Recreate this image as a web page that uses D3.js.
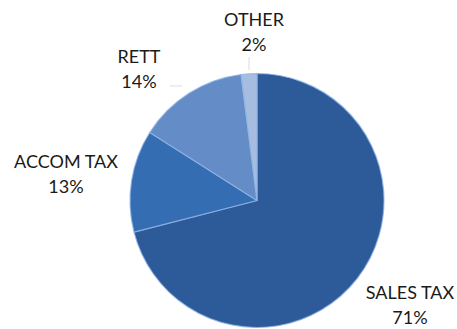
<!DOCTYPE html>
<html>
<head>
<meta charset="utf-8">
<script src="https://cdn.jsdelivr.net/npm/d3@7"></script>
<style>
  body { margin: 0; background: #fff; }
  text { font-family: Lato, "Open Sans", sans-serif; fill: #1a1a1a; }
</style>
</head>
<body>
<div id="chart"></div>
<script>
// data
const categories = ["SALES TAX", "ACCOM TAX", "RETT", "OTHER"];
const values = [71, 13, 14, 2];
const colors = ["#3668ae", "#3c7ac6", "#6f99d4", "#b7cdea"];
const edgeColors = ["#2d5a99", "#356db3", "#648dc8", "#a6bde0"];

// label positions (centre x, first baseline y)
const labelPos = [[410, 299], [66, 168], [139, 63], [254, 26]];

const width = 457, height = 329;
const cx = 257, cy = 200.5, radius = 127;

const svg = d3.select("#chart")
  .append("svg")
  .attr("width", width)
  .attr("height", height);

const defs = svg.append("defs");
categories.forEach((c, i) => {
  const g = defs.append("radialGradient")
    .attr("id", "grad" + i)
    .attr("gradientUnits", "userSpaceOnUse")
    .attr("cx", cx).attr("cy", cy).attr("r", radius);
  g.append("stop").attr("offset", "0%").attr("stop-color", colors[i]);
  g.append("stop").attr("offset", "92%").attr("stop-color", colors[i]);
  g.append("stop").attr("offset", "100%").attr("stop-color", edgeColors[i]);
});

const data = categories.map((c, i) => ({name: c, value: values[i], idx: i}));

const pie = d3.pie()
  .value(d => d.value)
  .sort(null);

const arc = d3.arc()
  .innerRadius(0)
  .outerRadius(radius);

const g = svg.append("g")
  .attr("transform", `translate(${cx},${cy})`);

g.selectAll("path")
  .data(pie(data))
  .join("path")
  .attr("d", arc)
  .attr("fill", d => `url(#grad${d.data.idx})`)
  .attr("stroke", "#8fb3e6")
  .attr("stroke-opacity", 0.8)
  .attr("stroke-width", 1.2)
  .attr("stroke-linejoin", "round");

// faint leader lines for the two top labels
const leaders = [[[170, 86], [182, 86]], [[249, 57], [249, 70]]];
svg.selectAll(".leader")
  .data(leaders)
  .join("path")
  .attr("class", "leader")
  .attr("d", d => d3.line()(d))
  .attr("stroke", "#dcdcdc")
  .attr("stroke-width", 1)
  .attr("fill", "none");

// labels
const labels = svg.selectAll(".label")
  .data(data)
  .join("text")
  .attr("class", "label")
  .attr("text-anchor", "middle")
  .style("font-size", "18px");

labels.append("tspan")
  .attr("x", d => labelPos[d.idx][0])
  .attr("y", d => labelPos[d.idx][1])
  .text(d => d.name);

labels.append("tspan")
  .attr("x", d => labelPos[d.idx][0])
  .attr("y", d => labelPos[d.idx][1] + 25)
  .text(d => d.value + "%");
</script>
</body>
</html>
